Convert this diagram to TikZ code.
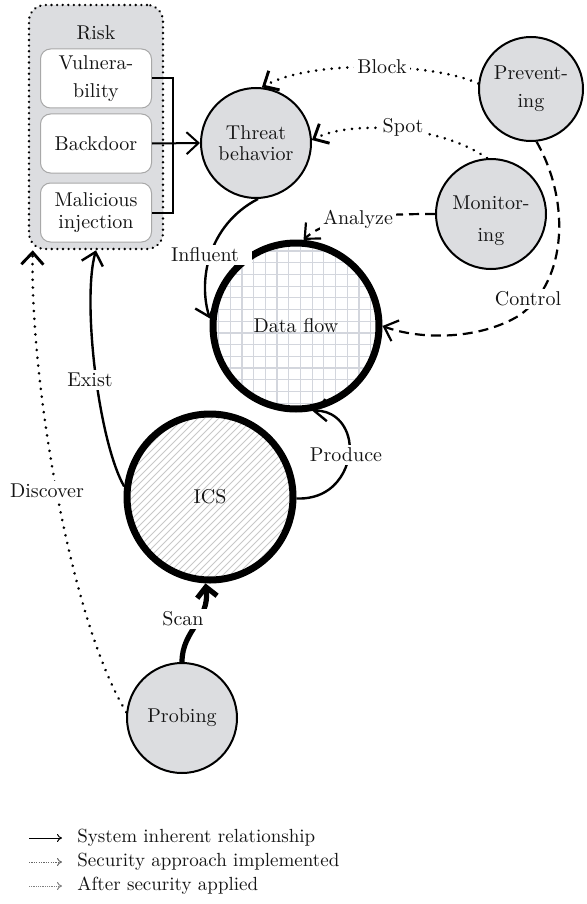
\documentclass[tikz,border=0pt]{standalone}
\usetikzlibrary{arrows.meta,calc}
\definecolor{nodegray}{HTML}{DCDDE0}
\definecolor{gridc}{HTML}{D3D6DD}
\definecolor{hatchc}{HTML}{C8C8C8}
\definecolor{boxline}{HTML}{A8A8A8}
\begin{document}
\begin{tikzpicture}[x=0.5pt,y=-0.5pt,
  every node/.style={font=\fontsize{10}{12}\selectfont, align=center, text=black!92},
  graynode/.style={circle, draw, line width=1pt, fill=nodegray, inner sep=0pt, minimum size=55pt},
  bigcircle/.style={circle, draw, line width=3.5pt, inner sep=0pt, minimum size=83pt},
  riskitem/.style={draw=boxline, fill=white, rounded corners=5pt, line width=0.5pt,
    minimum width=55.5pt, minimum height=29.5pt, inner sep=1pt},
  barb/.style={-{Straight Barb[length=6pt,width=11pt]}},
  rel/.style={line width=1.2pt, barb},
  dots/.style={line width=1.45pt, dash pattern=on 0.01pt off 3.9pt, line cap=round, barb},
  dashes/.style={line width=1.1pt, dash pattern=on 5pt off 3pt, barb},
  lbl/.style={fill=white, inner sep=1.5pt},
  legline/.style={line width=0.5pt, -{To[length=2.5pt,width=4pt]}},
]
\useasboundingbox (0,0) rectangle (587,904);

% risk group
\node[draw, line width=1.3pt, dash pattern=on 0.01pt off 2.8pt, line cap=round,
      rounded corners=8pt, fill=nodegray, minimum width=67pt, minimum height=122pt]
      (risk) at (96,127) {};
\node (risktitle) at (96,33) {Risk};
\node[riskitem] (vul) at (96,78.5) {Vulnera-\\[2pt]bility};
\node[riskitem] (back) at (96,143.5) {Backdoor};
\node[riskitem] (mal) at (96,212.5) {Malicious\\[-1pt]injection};

% gray circles
\node[graynode] (threat) at (256,143) {Threat\\[-1.5pt]behavior};
\node[graynode, minimum size=52pt] (prevent) at (531,89) {Prevent-\\[2pt]ing};
\node[graynode] (monitor) at (491,214) {};
\node (monitortext) at (491,221) {Monitor-\\[4pt]ing};
\node[graynode] (probe) at (182,718) {Probing};

% data flow (grid fill) and ICS (hatched fill)
\node[bigcircle, path picture={
    \draw[gridc, line width=0.6pt]
      ($(path picture bounding box.south west)+(-2pt,-2pt)$) grid[step=5.85pt]
      ($(path picture bounding box.north east)+(2pt,2pt)$);}]
  (df) at (296,326) {Data flow};
\node[bigcircle, path picture={
    \foreach \i in {-30,...,30}
      \draw[hatchc, line width=0.5pt]
        ($(path picture bounding box.center)+(\i*3.5pt-50pt,-50pt)$) -- ++(100pt,100pt);}]
  (ics) at (210,497) {ICS};

% risk items into threat behaviour
\draw[line width=1pt] (vul.east) -- ++(21,0) |- (mal.east);
\draw[rel, line width=1pt] (back.east) -- (threat.west);

% security approaches
\draw[dots] (prevent.174) .. controls (430,62) and (310,60) .. (threat.84);
\draw[dots] (monitor.94) .. controls (440,125) and (350,120) .. (threat.3);
\draw[dashes] (monitor.west) .. controls (390,214) and (330,215) .. (df.85);
\draw[dashes] (prevent.-84) .. controls (570,200) and (568,280) .. (520,315)
  .. controls (480,340) and (420,340) .. (df.0);

% system relationships
\draw[rel] (threat.-88) .. controls (208,225) and (198,280) .. (df.175);
\draw[rel] (ics.-1) .. controls (340,500) and (353,460) .. (349,440)
  .. controls (345,420) and (330,410) .. (df.-79);
\draw[rel] (ics.173) .. controls (98,440) and (82,300) .. (risk.south);
\draw[line width=2.6pt, -{Straight Barb[length=5pt,width=10pt]}]
  (probe.90) .. controls (182,630) and (210,620) .. (ics.-93);
\draw[dots] (probe.174) .. controls (70,620) and (30,380) .. ($(risk.south west)+(5,0)$);

% connector labels
\node[lbl] (lblock) at (382,67) {Block};
\node[lbl] (lspot) at (403,127) {Spot};
\node[lbl] (lanalyze) at (358,219) {Analyze};
\node[lbl] (lcontrol) at (528,299) {Control};
\node[lbl] (linfluent) at (210,255) {Influent\hspace{5pt}};
\node[lbl] (lexist) at (90,380) {Exist};
\node[lbl] (lproduce) at (346,455) {Produce};
\node[lbl] (ldiscover) at (47,491) {Discover};
\node[lbl] (lscan) at (183,619) {Scan};

% legend
\coordinate (la1) at (29,838); \coordinate (lb1) at (62,838);
\coordinate (la2) at (29,862); \coordinate (lb2) at (62,862);
\coordinate (la3) at (29,886); \coordinate (lb3) at (62,886);
\draw[legline] (la1) -- (lb1);
\draw[legline, black!60, dash pattern=on 0.6pt off 0.6pt] (la2) -- (lb2);
\draw[legline, black!50, dash pattern=on 0.4pt off 0.5pt] (la3) -- (lb3);
\begin{scope}[every node/.append style={font=\fontsize{9.5}{11.4}\selectfont, anchor=west, inner xsep=0pt}]
\node (leg1) at (77,838) {System inherent relationship};
\node (leg2) at (77,862) {Security approach implemented};
\node (leg3) at (77,886) {After security applied};
\end{scope}
\end{tikzpicture}
\end{document}
